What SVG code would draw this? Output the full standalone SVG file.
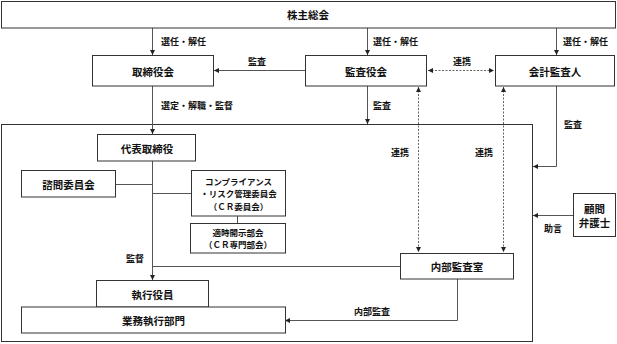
<svg xmlns="http://www.w3.org/2000/svg" width="617" height="344" viewBox="0 0 617 344">
<defs>
<marker id="ah" viewBox="0 0 6 6" refX="6" refY="3" markerWidth="5" markerHeight="5" orient="auto-start-reverse" markerUnits="userSpaceOnUse">
<path d="M0,0 L6,3 L0,6 z" fill="#222"/>
</marker>
<style>
.box{fill:#fff;stroke:#333;stroke-width:1}
.frame{fill:none;stroke:#333;stroke-width:1}
.t{font-family:"Noto Sans CJK JP","Noto Sans CJK SC",sans-serif;font-size:10.5px;font-weight:bold;fill:#111;text-anchor:middle;dominant-baseline:central}
.s{font-family:"Noto Sans CJK JP","Noto Sans CJK SC",sans-serif;font-size:9px;font-weight:bold;fill:#111;dominant-baseline:central}
.c{font-family:"Noto Sans CJK JP","Noto Sans CJK SC",sans-serif;font-size:8.5px;font-weight:bold;fill:#111;text-anchor:middle;dominant-baseline:central}
.ln{fill:none;stroke:#555;stroke-width:1}
.arr{fill:none;stroke:#555;stroke-width:1;marker-end:url(#ah)}
.dash{fill:none;stroke:#666;stroke-width:1;stroke-dasharray:2,1.5;marker-start:url(#ah);marker-end:url(#ah)}
</style>
</defs>
<rect class="frame" x="1.5" y="124.5" width="531" height="217"/>
<g id="connectors">
<path class="arr" d="M152.5,28 V55"/>
<path class="arr" d="M367.5,28 V55"/>
<path class="arr" d="M556.5,28 V55"/>
<path class="arr" d="M305,70.5 H214"/>
<path class="dash" d="M428,70.5 H494"/>
<path class="arr" d="M152.5,86 V134"/>
<path class="arr" d="M367.5,86 V124"/>
<path class="dash" d="M418.5,87 V252"/>
<path class="dash" d="M503.5,87 V252"/>
<path class="arr" d="M556.5,86 V166.5 H533"/>
<path class="arr" d="M573,215.5 H533"/>
<path class="arr" d="M152.5,161 V280"/>
<path class="ln" d="M116,184.5 H152.5"/>
<path class="ln" d="M152.5,193.5 H191"/>
<path class="ln" d="M237.5,216 V223"/>
<path class="ln" d="M152.5,266.5 H400"/>
<path class="arr" d="M457.5,279 V320.5 H285"/>
</g>
<g id="labels">
<text class="s" x="161" y="41">選任・解任</text>
<text class="s" x="373" y="41">選任・解任</text>
<text class="s" x="563" y="41">選任・解任</text>
<text class="s" x="257" y="61" text-anchor="middle">監査</text>
<text class="s" x="462" y="61" text-anchor="middle">連携</text>
<text class="s" x="161" y="105">選定・解職・監督</text>
<text class="s" x="382" y="105" text-anchor="middle">監査</text>
<text class="s" x="573" y="124" text-anchor="middle">監査</text>
<text class="s" x="400" y="152" text-anchor="middle">連携</text>
<text class="s" x="484" y="152" text-anchor="middle">連携</text>
<text class="s" x="553" y="228" text-anchor="middle">助言</text>
<text class="s" x="135" y="258" text-anchor="middle">監督</text>
<text class="s" x="372" y="311" text-anchor="middle">内部監査</text>
</g>
<g id="n-shareholders"><rect class="box" x="1.5" y="1.5" width="614" height="26.5"/><text class="t" x="308" y="14.5">株主総会</text></g>
<g id="n-board"><rect class="box" x="92.5" y="55.5" width="121" height="30.5"/><text class="t" x="153" y="71">取締役会</text></g>
<g id="n-kansayaku"><rect class="box" x="305.5" y="55.5" width="121" height="30.5"/><text class="t" x="366" y="71">監査役会</text></g>
<g id="n-auditor"><rect class="box" x="495.5" y="55.5" width="119" height="30.5"/><text class="t" x="555" y="71">会計監査人</text></g>
<g id="n-ceo"><rect class="box" x="97.5" y="134.5" width="98" height="26.5"/><text class="t" x="147" y="148.5">代表取締役</text></g>
<g id="n-advisory"><rect class="box" x="21.5" y="170.5" width="94" height="26.5"/><text class="t" x="68.5" y="184">諮問委員会</text></g>
<g id="n-cr"><rect class="box" x="191.5" y="170.5" width="94" height="45.5"/>
<text class="c" x="238.5" y="181">コンプライアンス</text>
<text class="c" x="238.5" y="193.4">・リスク管理委員会</text>
<text class="c" x="238.5" y="205.8">（ＣＲ委員会）</text></g>
<g id="n-disclosure"><rect class="box" x="190.5" y="223.5" width="95" height="29.5"/>
<text class="c" x="238" y="231.5">適時開示部会</text>
<text class="c" x="238" y="243.9">（ＣＲ専門部会）</text></g>
<g id="n-internal"><rect class="box" x="400.5" y="253.5" width="113" height="25.5"/><text class="t" x="457" y="266.5">内部監査室</text></g>
<g id="n-lawyer"><rect class="box" x="573.5" y="193.5" width="42" height="43"/>
<text class="t" x="594.5" y="208">顧問</text>
<text class="t" x="594.5" y="222">弁護士</text></g>
<g id="n-officers"><rect class="box" x="96.5" y="280.5" width="112" height="26.5"/><text class="t" x="152.5" y="294">執行役員</text></g>
<g id="n-business"><rect class="box" x="21.5" y="307" width="264" height="26"/><text class="t" x="153.5" y="320">業務執行部門</text></g>
</svg>
